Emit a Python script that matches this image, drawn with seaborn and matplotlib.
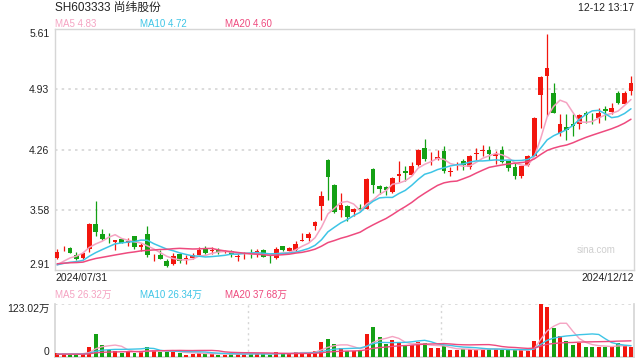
import numpy as np
import pandas as pd
import seaborn as sns
import matplotlib.pyplot as plt

# daily k-line, 2024/07/31 .. 2024/12/12
opens = [3.045, 3.142, 3.161, 3.083, 3.045, 3.143, 3.428, 3.311, 3.26, 3.229,
         3.259, 3.21, 3.293, 3.172, 3.315, 3.04, 3.079, 3.007, 2.98, 3.086,
         3.035, 3.049, 3.083, 3.15, 3.12, 3.135, 3.11, 3.128, 3.06, 3.088,
         3.095, 3.09, 3.135, 3.047, 3.045, 3.18, 3.128, 3.135, 3.24, 3.263,
         3.405, 3.622, 4.14, 3.866, 3.585, 3.63, 3.555, 3.608, 3.593, 4.046,
         3.855, 3.844, 3.78, 3.96, 4.017, 3.979, 4.091, 4.279, 4.14, 4.148,
         4.241, 4.01, 4.06, 4.129, 4.065, 4.21, 4.245, 4.249, 4.185, 4.249,
         4.136, 4.061, 3.96, 4.091, 4.192, 4.867, 5.085, 4.89, 4.448, 4.508,
         4.549, 4.549, 4.665, 4.592, 4.609, 4.71, 4.684, 4.89, 4.774, 4.916]
highs = [3.15, 3.18, 3.165, 3.116, 3.116, 3.435, 3.683, 3.368, 3.33, 3.248,
         3.27, 3.266, 3.293, 3.21, 3.405, 3.086, 3.135, 3.037, 3.098, 3.105,
         3.08, 3.105, 3.172, 3.18, 3.165, 3.154, 3.13, 3.135, 3.09, 3.116,
         3.143, 3.15, 3.15, 3.079, 3.165, 3.18, 3.165, 3.236, 3.323, 3.341,
         3.454, 3.79, 4.148, 3.878, 3.775, 3.641, 3.604, 3.652, 3.941, 4.054,
         3.866, 3.855, 3.953, 4.133, 4.073, 4.118, 4.268, 4.38, 4.234, 4.253,
         4.298, 4.065, 4.117, 4.148, 4.20, 4.279, 4.31, 4.297, 4.241, 4.297,
         4.136, 4.11, 4.08, 4.203, 4.624, 5.085, 5.554, 5.003, 4.654, 4.661,
         4.661, 4.654, 4.691, 4.673, 4.729, 4.748, 4.785, 4.916, 4.916, 5.085]
lows = [3.03, 3.12, 3.098, 3.023, 3.038, 3.116, 3.293, 3.248, 3.218, 3.135,
        3.21, 3.18, 3.15, 3.128, 3.06, 3.015, 3.03, 2.94, 2.97, 2.993,
        2.98, 3.03, 3.08, 3.09, 3.09, 3.09, 3.10, 3.06, 3.015, 3.03,
        3.045, 3.06, 3.053, 2.985, 3.03, 3.128, 3.12, 3.128, 3.24, 3.24,
        3.36, 3.47, 3.698, 3.548, 3.503, 3.461, 3.51, 3.566, 3.593, 3.773,
        3.765, 3.754, 3.773, 3.893, 3.904, 3.979, 4.073, 4.129, 4.09, 4.14,
        3.998, 3.96, 4.027, 4.027, 4.042, 4.147, 4.185, 4.147, 4.099, 4.11,
        4.016, 3.93, 3.938, 4.072, 4.185, 4.504, 4.635, 4.665, 4.41, 4.372,
        4.41, 4.485, 4.552, 4.549, 4.552, 4.586, 4.661, 4.766, 4.766, 4.871]
closes = [3.113, 3.146, 3.105, 3.034, 3.105, 3.428, 3.341, 3.255, 3.255, 3.248,
          3.218, 3.24, 3.165, 3.195, 3.083, 3.045, 3.037, 2.959, 3.068, 3.011,
          3.04, 3.075, 3.135, 3.105, 3.13, 3.109, 3.113, 3.09, 3.064, 3.094,
          3.09, 3.12, 3.06, 3.043, 3.146, 3.135, 3.154, 3.203, 3.244, 3.315,
          3.443, 3.742, 3.949, 3.555, 3.641, 3.503, 3.597, 3.578, 3.93, 3.866,
          3.818, 3.803, 3.938, 3.99, 3.998, 4.073, 4.26, 4.148, 4.145, 4.178,
          4.016, 4.02, 4.067, 4.084, 4.192, 4.216, 4.25, 4.204, 4.211, 4.121,
          4.054, 3.96, 4.08, 4.192, 4.612, 5.074, 5.171, 4.665, 4.541, 4.474,
          4.522, 4.643, 4.643, 4.585, 4.673, 4.691, 4.729, 4.777, 4.897, 5.003]
# volume, 万 shares
volumes = [10.4, 9.6, 5.6, 6.4, 6.4, 24.1, 53.9, 28.9, 16.9, 14.5,
           10.4, 12.0, 10.4, 12.0, 23.3, 15.4, 12.0, 12.0, 12.0, 10.4,
           5.6, 8.0, 9.6, 7.2, 7.2, 5.6, 5.6, 7.2, 7.2, 7.2,
           8.0, 8.0, 8.0, 5.6, 12.0, 8.8, 7.2, 12.0, 11.0, 12.0,
           13.7, 34.6, 41.0, 29.7, 21.7, 13.7, 13.7, 16.9, 53.9, 70.0,
           45.8, 29.7, 38.6, 32.2, 24.9, 27.3, 33.8, 31.4, 20.1, 20.1,
           24.9, 15.3, 15.3, 17.7, 17.7, 18.5, 19.3, 18.5, 18.5, 16.1,
           16.1, 16.1, 15.3, 12.9, 36.2, 123.02, 115.8, 68.3, 48.2, 36.2,
           28.9, 32.2, 24.1, 22.5, 24.1, 24.1, 26.5, 31.4, 24.9, 24.1]
# sessions before 07/31, only used to warm up the moving averages
prior_close = [3.02, 3.00, 2.99, 3.01, 2.98, 2.97, 3.00, 2.99, 2.98, 2.97,
               2.99, 2.98, 2.96, 2.97, 2.95, 2.94, 2.92, 2.93, 2.93]
prior_volume = [7.5, 6.8, 8.2, 5.9, 6.4, 7.1, 5.5, 6.0, 6.6, 5.8,
                7.0, 6.2, 5.4, 6.1, 5.7, 6.3, 5.2, 5.9, 6.5]

price_ticks = [2.91, 3.585, 4.26, 4.935, 5.61]
price_labels = ['2.91', '3.58', '4.26', '4.93', '5.61']
vol_max = 123.02
title = 'SH603333 尚纬股份'
stamp = '12-12 13:17'
first_date, last_date = '2024/07/31', '2024/12/12'
ma_text = ['MA5 4.83', 'MA10 4.72', 'MA20 4.60']
vol_ma_text = ['MA5 26.32万', 'MA10 26.34万', 'MA20 37.68万']

RED, GREEN = '#F2150D', '#14A014'
MA_COLORS = ['#F5A3C2', '#3EC5E6', '#EE4A7E']
GRID = '#d6d6d6'

sns.set_theme(style='white')
plt.rcParams['font.family'] = ['Liberation Sans', 'Noto Sans CJK SC', 'DejaVu Sans']

df = pd.DataFrame({'open': opens, 'high': highs, 'low': lows,
                   'close': closes, 'vol': volumes})
df['i'] = np.arange(len(df))
n = len(df)
up = df['close'] >= df['open']
colors = np.where(up, RED, GREEN)

all_close = pd.Series(prior_close + closes)
all_vol = pd.Series(prior_volume + volumes)
k = len(prior_close)
for w in (5, 10, 20):
    df[f'ma{w}'] = all_close.rolling(w, min_periods=1).mean().iloc[k:].values
    df[f'vma{w}'] = all_vol.rolling(w, min_periods=1).mean().iloc[k:].values

fig = plt.figure(figsize=(6.4, 3.6), dpi=100)
ax = fig.add_axes([55 / 640, 1 - 270 / 360, 579 / 640, 241 / 360])
axv = fig.add_axes([55 / 640, 1 - 357 / 360, 579 / 640, 53 / 360])
xlim = (-0.33, n - 0.53)

# price panel
body = np.maximum((df['close'] - df['open']).abs(), 0.007)
bottom = np.minimum(df['open'], df['close'])
ax.vlines(df['i'], df['low'], df['high'], colors=colors, lw=0.9, zorder=2)
ax.bar(df['i'], body, bottom=bottom, width=0.72, color=colors, lw=0, zorder=3)
for w, c in zip((5, 10, 20), MA_COLORS):
    sns.lineplot(x='i', y=f'ma{w}', data=df, ax=ax, color=c, lw=1.1, zorder=4)
ax.set_xlim(*xlim)
ax.set_ylim(price_ticks[0], price_ticks[-1])
ax.set_yticks(price_ticks)
ax.set_yticklabels(price_labels, fontsize=7.5, color='#222222')
lab = ax.get_yticklabels()
lab[0].set_va('bottom')
lab[-1].set_va('top')
ax.tick_params(axis='y', length=0, pad=4)
ax.set_xticks([])
ax.set_xlabel('')
ax.set_ylabel('')
for y in price_ticks[1:-1]:
    ax.axhline(y, color=GRID, lw=1.2, ls=(0, (1.5, 2.5)), zorder=1)
for s in ax.spines.values():
    s.set_color(GRID)
    s.set_linewidth(1)
ax.text(0.935, 0.085, 'sina.com', transform=ax.transAxes, fontsize=7,
        color='#cfcfcf', ha='center', va='center')

# volume panel
axv.bar(df['i'], df['vol'], width=0.62, color=colors, lw=0, zorder=3)
for w, c in zip((5, 10, 20), MA_COLORS):
    sns.lineplot(x='i', y=f'vma{w}', data=df, ax=axv, color=c, lw=1.0, zorder=4)
axv.set_xlim(*xlim)
axv.set_ylim(0, vol_max)
axv.set_yticks([0, vol_max])
axv.set_yticklabels(['0', f'{vol_max:.2f}万'], fontsize=7.5, color='#222222')
vl = axv.get_yticklabels()
vl[0].set_va('bottom')
vl[1].set_va('top')
axv.tick_params(axis='y', length=0, pad=4)
axv.set_xticks([])
axv.set_xlabel('')
axv.set_ylabel('')
axv.spines['top'].set_visible(False)
for s in ('left', 'right', 'bottom'):
    axv.spines[s].set_color(GRID)
axv.axhline(vol_max, color=GRID, lw=1.2, ls=(0, (1.5, 2.5)), zorder=1)
for xv in (29.6, 59.5):
    axv.axvline(xv, color=GRID, lw=1.0, ls=(0, (1.5, 2.5)), zorder=1)

# header texts
fig.text(55 / 640, 1 - 8 / 360, title, fontsize=8.5, color='#222222', va='center')
fig.text(634 / 640, 1 - 8 / 360, stamp, fontsize=7.5, color='#222222',
         va='center', ha='right')
for xpos, t, c in zip((55, 140, 225), ma_text, MA_COLORS):
    fig.text(xpos / 640, 1 - 24 / 360, t, fontsize=7, color=c, va='center')
fig.text(55 / 640, 1 - 278 / 360, first_date, fontsize=7.5, color='#222222', va='center')
fig.text(634 / 640, 1 - 278 / 360, last_date, fontsize=7.5, color='#222222',
         va='center', ha='right')
for xpos, t, c in zip((55, 140, 225), vol_ma_text, MA_COLORS):
    fig.text(xpos / 640, 1 - 295 / 360, t, fontsize=7, color=c, va='center')

fig.savefig('out.png', dpi=100)
